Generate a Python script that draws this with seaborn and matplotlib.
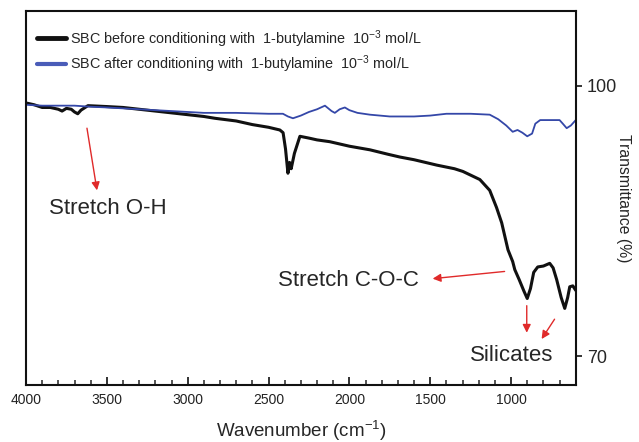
import numpy as np
import pandas as pd
import matplotlib
matplotlib.use("Agg")
import matplotlib.pyplot as plt
import seaborn as sns
from matplotlib.lines import Line2D

# ---- data ----
before_wn = [4000, 3950, 3900, 3850, 3800, 3777, 3750, 3720, 3700, 3680, 3660, 3617,
             3500, 3400, 3300, 3200, 3100, 3000, 2900, 2832, 2700, 2600, 2500, 2430,
             2410, 2395, 2380, 2370, 2360, 2340, 2306, 2250, 2200, 2121, 2000, 1873,
             1760, 1688, 1600, 1459, 1350, 1298, 1193, 1132, 1090, 1058, 1019, 990,
             977, 950, 920, 900, 880, 860, 835, 800, 761, 740, 718, 690, 668, 650,
             637, 618, 600]
before_t = [98.1, 97.9, 97.6, 97.6, 97.4, 97.2, 97.5, 97.4, 97.1, 96.9, 97.3, 97.8,
            97.7, 97.6, 97.4, 97.2, 97.0, 96.8, 96.6, 96.4, 96.1, 95.7, 95.4, 95.1,
            94.8, 93.0, 90.3, 91.5, 90.8, 92.5, 94.4, 94.2, 94.0, 93.8, 93.3, 92.9,
            92.4, 92.1, 91.8, 91.2, 90.8, 90.5, 89.6, 88.4, 86.5, 84.8, 81.8, 80.5,
            79.6, 78.5, 77.2, 76.4, 77.5, 79.3, 79.9, 80.0, 80.3, 79.8, 78.5, 76.5,
            75.3, 76.5, 77.7, 77.8, 77.3]

after_wn = [4000, 3900, 3800, 3700, 3617, 3500, 3300, 3100, 2900, 2700, 2500, 2411,
            2380, 2349, 2300, 2250, 2200, 2151, 2110, 2090, 2060, 2028, 2000, 1950,
            1873, 1750, 1688, 1600, 1500, 1400, 1250, 1132, 1080, 1030, 990, 960,
            930, 900, 870, 850, 820, 760, 700, 680, 656, 630, 600]
after_t = [97.9, 97.8, 97.8, 97.8, 97.7, 97.6, 97.4, 97.2, 97.0, 97.0, 96.9, 96.9,
           96.6, 96.4, 96.7, 97.1, 97.4, 97.8, 97.2, 97.0, 97.4, 97.6, 97.3, 97.0,
           96.8, 96.6, 96.6, 96.6, 96.7, 96.9, 96.9, 96.8, 96.3, 95.6, 94.9, 95.1,
           94.8, 94.4, 94.7, 95.8, 96.2, 96.2, 96.2, 95.8, 95.3, 95.6, 96.2]

label_before = r"SBC before conditioning with  1-butylamine  10$^{-3}$ mol/L"
label_after = r"SBC after conditioning with  1-butylamine  10$^{-3}$ mol/L"

df = pd.concat([
    pd.DataFrame({"Wavenumber": before_wn, "Transmittance": before_t, "sample": label_before}),
    pd.DataFrame({"Wavenumber": after_wn, "Transmittance": after_t, "sample": label_after}),
])

sns.set_style("ticks")
plt.rcParams["font.family"] = ["Liberation Sans", "DejaVu Sans"]
plt.rcParams["mathtext.fontset"] = "custom"
plt.rcParams["mathtext.rm"] = "Liberation Sans"
plt.rcParams["mathtext.it"] = "Liberation Sans:italic"
plt.rcParams["mathtext.bf"] = "Liberation Sans:bold"

BLACK = "#111111"
BLUE = "#3447a8"
RED = "#e02a2a"

fig = plt.figure(figsize=(6.39, 4.42), dpi=100)
ax = fig.add_axes([0.0407, 0.129, 0.8603, 0.846])

sns.lineplot(data=df, x="Wavenumber", y="Transmittance", hue="sample",
             palette=[BLACK, BLUE], ax=ax, sort=False, legend=False)
lines = ax.get_lines()
lines[0].set_linewidth(2.2)
lines[1].set_linewidth(1.3)

ax.set_xlim(4000, 600)
ax.set_ylim(66.8, 108.3)

# x ticks
ax.set_xticks([4000, 3500, 3000, 2500, 2000, 1500, 1000])
ax.set_xticks(np.arange(600, 4001, 100), minor=True)
ax.tick_params(axis="x", which="major", direction="in", length=6, width=1.3,
               labelsize=10, pad=6, top=False, colors="#222222")
ax.tick_params(axis="x", which="minor", direction="in", length=3.5, width=1.1, top=False)

# y ticks on right
ax.yaxis.tick_right()
ax.yaxis.set_label_position("right")
ax.set_yticks([70, 100])
ax.tick_params(axis="y", which="major", direction="out", length=4, width=1.3,
               labelsize=13, pad=4, left=False)

for s in ax.spines.values():
    s.set_visible(True)
    s.set_linewidth(1.5)
    s.set_color("#111111")

ax.set_xlabel(r"Wavenumber (cm$^{-1}$)", fontsize=13.5, labelpad=8)
ax.set_ylabel("Transmittance (%)", fontsize=11.3, rotation=270, labelpad=10)

# legend
handles = [Line2D([], [], color=BLACK, lw=3.5), Line2D([], [], color="#4a5cb8", lw=3)]
ax.legend(handles, [label_before, label_after], loc="upper left",
          bbox_to_anchor=(0.005, 0.978), frameon=False, fontsize=10.4,
          handlelength=2.0, handletextpad=0.25, labelspacing=0.3, borderaxespad=0.2)

# annotations
arrow = dict(arrowstyle="-|>", color=RED, lw=1.0, mutation_scale=12, shrinkA=0, shrinkB=0)
ax.text(3493, 86.4, "Stretch O-H", fontsize=16, ha="center", va="center")
ax.annotate("", xy=(3561, 88.4), xytext=(3623, 95.3), arrowprops=arrow)

ax.text(1571, 78.4, "Stretch C-O-C", fontsize=16, ha="right", va="center")
ax.annotate("", xy=(1485, 78.6), xytext=(1040, 79.4), arrowprops=arrow)

ax.text(996, 70.1, "Silicates", fontsize=16, ha="center", va="center")
ax.annotate("", xy=(903, 72.6), xytext=(903, 75.6), arrowprops=arrow)
ax.annotate("", xy=(811, 71.9), xytext=(731, 74.1), arrowprops=arrow)

fig.savefig("out.png", dpi=100)
